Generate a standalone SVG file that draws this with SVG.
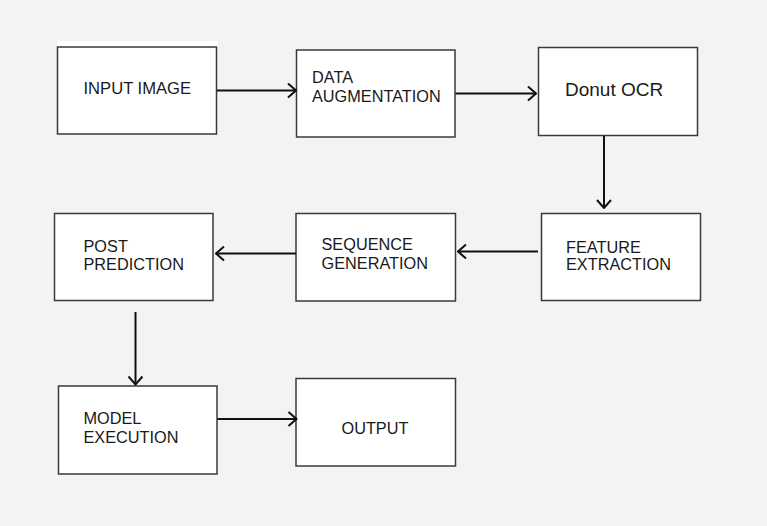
<svg xmlns="http://www.w3.org/2000/svg" width="767" height="526" viewBox="0 0 767 526">
<defs>
<style>
.box{fill:#ffffff;stroke:#3a3a3a;stroke-width:1.5}
.lbl{font-family:"Liberation Sans",Arial,sans-serif;font-size:16.3px;fill:#1a1a1a}
.big{font-family:"Liberation Sans",Arial,sans-serif;font-size:19px;fill:#1a1a1a}
.edge{fill:none;stroke:#111111;stroke-width:2}
</style>
<marker id="arr" viewBox="0 0 12 16" refX="11" refY="8" markerWidth="12" markerHeight="16" markerUnits="userSpaceOnUse" orient="auto">
<path d="M3,1 L11,8 L3,15" fill="none" stroke="#111111" stroke-width="2"/>
</marker>
</defs>
<rect x="0" y="0" width="767" height="526" fill="#f3f3f3"/>
<rect x="57" y="41" width="161" height="7" fill="#ffffff"/>
<g id="input-image">
<rect class="box" x="57.5" y="47" width="159" height="87"/>
<text class="lbl" x="83.5" y="94" style="font-size:16.6px">INPUT IMAGE</text>
</g>
<g id="data-augmentation">
<rect class="box" x="296.5" y="50" width="158.5" height="87"/>
<text class="lbl" x="312" y="83">DATA</text>
<text class="lbl" x="312" y="102">AUGMENTATION</text>
</g>
<g id="donut-ocr">
<rect class="box" x="538.5" y="47.5" width="159" height="88"/>
<text class="big" x="565" y="96">Donut OCR</text>
</g>
<g id="feature-extraction">
<rect class="box" x="541.5" y="213.5" width="159" height="87"/>
<text class="lbl" x="566" y="252.5">FEATURE</text>
<text class="lbl" x="566" y="270">EXTRACTION</text>
</g>
<g id="sequence-generation">
<rect class="box" x="296" y="213.5" width="159.5" height="87.5"/>
<text class="lbl" x="321.5" y="250">SEQUENCE</text>
<text class="lbl" x="321.5" y="268.5">GENERATION</text>
</g>
<g id="post-prediction">
<rect class="box" x="54.5" y="213.5" width="158.5" height="87"/>
<text class="lbl" x="83.5" y="251.5">POST</text>
<text class="lbl" x="83.5" y="270">PREDICTION</text>
</g>
<g id="model-execution">
<rect class="box" x="58.5" y="386" width="158.5" height="88"/>
<text class="lbl" x="83.5" y="424">MODEL</text>
<text class="lbl" x="83.5" y="442.5">EXECUTION</text>
</g>
<g id="output">
<rect class="box" x="296" y="378.5" width="159.5" height="87.5"/>
<text class="lbl" x="341.5" y="433.5">OUTPUT</text>
</g>
<g id="connectors">
<line class="edge" x1="217" y1="90.5" x2="296" y2="90.5" marker-end="url(#arr)"/>
<line class="edge" x1="455.5" y1="93.5" x2="536" y2="93.5" marker-end="url(#arr)"/>
<line class="edge" x1="604" y1="136" x2="604" y2="208" marker-end="url(#arr)"/>
<line class="edge" x1="538" y1="251.5" x2="458" y2="251.5" marker-end="url(#arr)"/>
<line class="edge" x1="296" y1="253.5" x2="216" y2="253.5" marker-end="url(#arr)"/>
<line class="edge" x1="135.5" y1="312" x2="135.5" y2="384.5" marker-end="url(#arr)"/>
<line class="edge" x1="217.5" y1="419" x2="296.5" y2="419" marker-end="url(#arr)"/>
</g>
</svg>
